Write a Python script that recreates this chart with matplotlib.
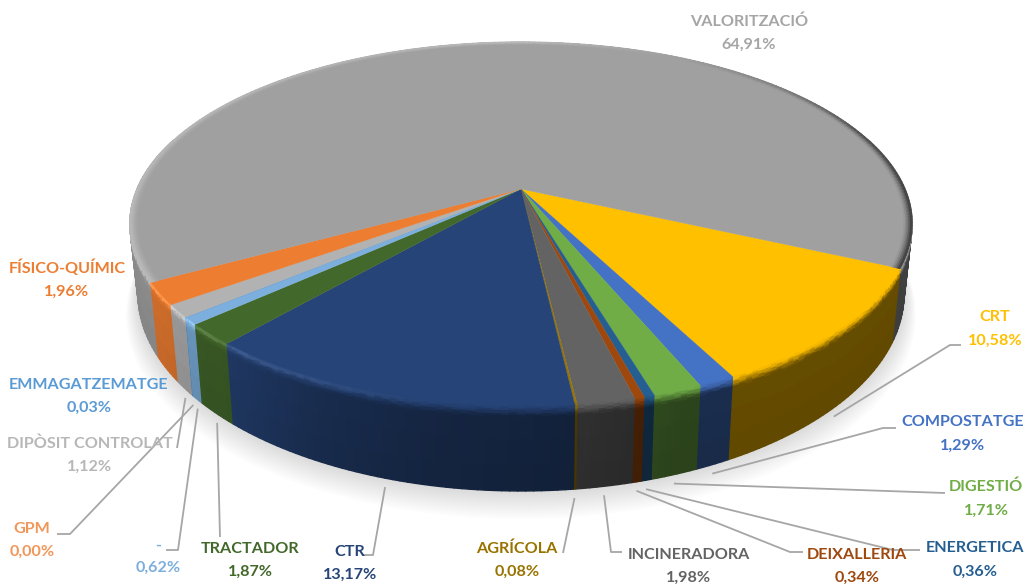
import matplotlib
matplotlib.use('Agg')
import matplotlib.pyplot as plt
from matplotlib.collections import PolyCollection
from matplotlib.colors import to_rgb
import numpy as np

# clockwise from the right-hand edge of the CRT slice
categories = ['CRT', 'COMPOSTATGE', 'DIGESTIÓ', 'ENERGETICA', 'DEIXALLERIA', 'INCINERADORA',
              'AGRÍCOLA', 'CTR', 'TRACTADOR', '-', 'GPM', 'EMMAGATZEMATGE',
              'DIPÒSIT CONTROLAT', 'FÍSICO-QUÍMIC', 'VALORITZACIÓ']
values = [10.58, 1.29, 1.71, 0.36, 0.34, 1.98, 0.08, 13.17, 1.87, 0.62, 0.00, 0.03, 1.12, 1.96, 64.91]
colors = ['#FFC000', '#4472C4', '#70AD47', '#255E91', '#9E480E', '#636363', '#997300', '#264478',
          '#43682B', '#7CAFDD', '#F1975A', '#5B9BD5', '#B2B2B2', '#ED7D31', '#A0A0A0']
label_colors = ['#FFC000', '#4472C4', '#70AD47', '#255E91', '#9E480E', '#636363', '#997300', '#264478',
                '#43682B', '#7CAFDD', '#F1975A', '#5B9BD5', '#B7B7B7', '#ED7D31', '#A5A5A5']

# label centres in pixels, name line then percent line
label_x = [995, 963, 986, 975, 857, 689, 517, 350, 250, 158, 32, 89, 90, 67, 749]
label_y = [317, 422, 487, 548, 555, 555, 549, 552, 549, 546, 529, 385, 444, 268, 22]
pct_y = [341, 446, 511, 572, 578, 578, 572, 575, 572, 568, 552, 408, 467, 292, 45]

# leader line after the point on the pie: elbow and end, None where there is no leader
leader_paths = [[(950, 345), (961, 345)], [(883, 428), (896, 428)], [(945, 493)],
                [(893, 550), (920, 550)], [(790, 552), (803, 552)], [(611, 552), (622, 552)],
                [(563, 553)], [(373, 555), (362, 555)], [(220, 537)],
                [(178, 550), (166, 550)], [(70, 534), (57, 534)], None, [(177, 448)], None, None]

START_ANGLE = -24.7
CX = 521


def top_xy(theta, r=1.0):
    t = np.radians(theta)
    u, v = r * np.cos(t), r * np.sin(t)
    w = 1 + 0.19 * v
    return CX + 384 * u / w, 189 - 175 * v / w


def bottom_xy(theta, r=1.0):
    t = np.radians(theta)
    u, v = r * np.cos(t), r * np.sin(t)
    w = 1 + 0.19 * v
    return CX + 376 * u / w, 256.4 - 190 * v / w


def side_shade(theta):
    a = (theta + 180) % 360 - 180
    return np.interp(a, [-180, -150, -130, -115, -100, -85, -70, -30, 10, 180],
                     [0.88, 0.88, 0.82, 0.65, 0.55, 0.5, 0.4, 0.4, 0.42, 0.88])


def rim_grey(theta):
    a = (theta + 180) % 360 - 180
    g = np.interp(a, [-180, -150, -30, 0, 20, 40, 60, 90, 120, 180],
                  [0.72, 0.72, 0.27, 0.27, 0.33, 0.5, 0.62, 0.72, 0.7, 0.72])
    return (g, g, g)


fig = plt.figure(figsize=(10.25, 5.85), dpi=100)
ax = fig.add_axes([0, 0, 1, 1])
ax.set_xlim(0, 1025)
ax.set_ylim(585, 0)
ax.axis('off')

vals = np.array(values)
edges = START_ANGLE - np.concatenate([[0], np.cumsum(vals)]) * 360 / vals.sum()
mids = (edges[:-1] + edges[1:]) / 2

# soft shadow under the pie
arc = np.linspace(0, 360, 361)
for i in range(12):
    sx, sy = bottom_xy(arc, 1 + 0.0025 * (12 - i))
    ax.fill(sx, sy + 1.6 * (12 - i), color='black', alpha=0.012, lw=0, zorder=1)

# side wall, split in small quads so it can be shaded
band_h = np.array([0, 0.015, 0.03, 0.05, 0.07, 0.09, 0.11, 0.13, 0.16, 0.4, 0.7, 1.0])
quads, quad_cols, quad_order = [], [], []
for i, col in enumerate(colors):
    if values[i] == 0:
        continue
    base = np.array(to_rgb(col))
    n = max(2, int(abs(edges[i + 1] - edges[i])) + 2)
    th = np.linspace(edges[i], edges[i + 1], n)
    for a0, a1 in zip(th[:-1], th[1:]):
        mid = (a0 + a1) / 2
        if np.sin(np.radians(mid)) > 0.3:
            continue
        s = side_shade(mid)
        left = np.clip((-mid - 100) / 40, 0, 1) if -180 < mid < 0 else 0.0
        for h0, h1 in zip(band_h[:-1], band_h[1:]):
            xt0, yt0 = top_xy(a0)
            xt1, yt1 = top_xy(a1)
            xb0, yb0 = bottom_xy(a0)
            xb1, yb1 = bottom_xy(a1)
            p = [(xt0 + (xb0 - xt0) * h0, yt0 + (yb0 - yt0) * h0),
                 (xt1 + (xb1 - xt1) * h0, yt1 + (yb1 - yt1) * h0),
                 (xt1 + (xb1 - xt1) * h1, yt1 + (yb1 - yt1) * h1),
                 (xt0 + (xb0 - xt0) * h1, yt0 + (yb0 - yt0) * h1)]
            hm = (h0 + h1) / 2
            t = np.clip(hm / 0.15, 0, 1)
            t = t * t * (3 - 2 * t)
            c = base * (1 - t) + base * s * (1 - 0.06 * hm) * t
            # lighter line along the rim on the left part of the front
            c = c + left * 0.13 * np.exp(-((hm - 0.03) / 0.03) ** 2)
            quads.append(p)
            quad_cols.append(np.clip(c, 0, 1))
            quad_order.append(np.sin(np.radians(mid)))

# back to front, thick enough edges to close the seams between quads
order = np.argsort(quad_order)[::-1]
ax.add_collection(PolyCollection([quads[k] for k in order], facecolors=[quad_cols[k] for k in order],
                                 edgecolors=[quad_cols[k] for k in order], linewidths=1.0, zorder=2))

# top face
for i, col in enumerate(colors):
    if values[i] == 0:
        continue
    n = max(2, int(abs(edges[i + 1] - edges[i])) + 2)
    px, py = top_xy(np.linspace(edges[i], edges[i + 1], n))
    ax.fill(np.r_[CX, px], np.r_[189, py], color=col, lw=0.2, zorder=3)

# bevel round the back of the big slice
ring_r = [0.98, 0.984, 0.988, 0.992, 0.996, 1.0]
base = np.array(to_rgb(colors[-1]))
ring_q, ring_c = [], []
th = np.linspace(edges[-2], edges[-1], 234)
for a0, a1 in zip(th[:-1], th[1:]):
    rim = np.array(rim_grey((a0 + a1) / 2))
    for j, (r0, r1) in enumerate(zip(ring_r[:-1], ring_r[1:])):
        x0, y0 = top_xy(a0, r0)
        x1, y1 = top_xy(a1, r0)
        x2, y2 = top_xy(a1, r1)
        x3, y3 = top_xy(a0, r1)
        ring_q.append([(x0, y0), (x1, y1), (x2, y2), (x3, y3)])
        f = ((j + 1) / (len(ring_r) - 1)) ** 1.5
        ring_c.append(base * (1 - f) + rim * f)
ax.add_collection(PolyCollection(ring_q, facecolors=ring_c, edgecolors=ring_c, linewidths=0.8, zorder=4))

# leader lines
for i, path in enumerate(leader_paths):
    if path is None:
        continue
    sx, sy = bottom_xy(mids[i])
    xs = [sx] + [p[0] for p in path]
    ys = [sy + 9] + [p[1] for p in path]
    ax.plot(xs, ys, color='#A6A6A6', lw=1.3, solid_capstyle='butt', zorder=5)

# labels
for i, name in enumerate(categories):
    ax.text(label_x[i], label_y[i], name, color=label_colors[i], family='Lato', weight='bold',
            fontsize=11.6, ha='center', va='center', zorder=6)
    ax.text(label_x[i], pct_y[i], f'{values[i]:.2f}%'.replace('.', ','), color=label_colors[i],
            family='Lato', weight='bold', fontsize=11.6, ha='center', va='center', zorder=6)

fig.savefig('out.png', dpi=100)
